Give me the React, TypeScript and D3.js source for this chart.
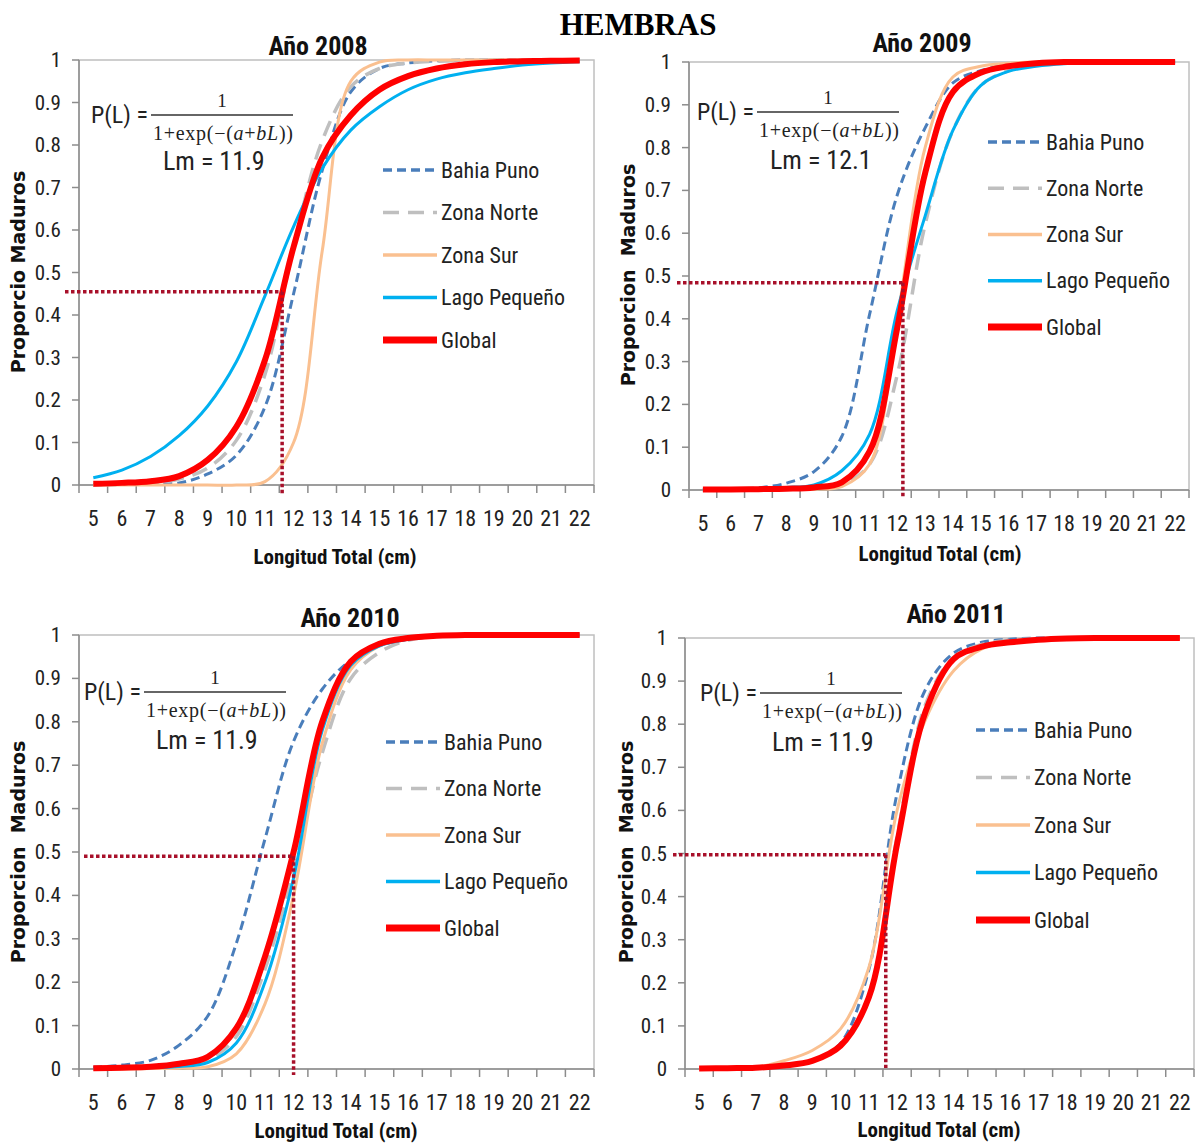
import React from "react";
import * as d3 from "d3";

// ---------- data ----------
const lengths = [5, 6, 7, 8, 9, 10, 11, 12, 13, 14, 15, 16, 17, 18, 19, 20, 21, 22];
const yTicks = [0, 0.1, 0.2, 0.3, 0.4, 0.5, 0.6, 0.7, 0.8, 0.9, 1];
const seriesNames = ["Bahia Puno", "Zona Norte", "Zona Sur", "Lago Pequeño", "Global"];
const panelTitles = ["Año 2008", "Año 2009", "Año 2010", "Año 2011"];
const yAxisTitles = ["Proporcio Maduros", "Proporcion  Maduros", "Proporcion  Maduros", "Proporcion  Maduros"];
const lmLabels = ["Lm = 11.9", "Lm = 12.1", "Lm = 11.9", "Lm = 11.9"];
const lmLengths = [11.6, 12.2, 12.0, 11.6];
const lmProportions = [0.455, 0.484, 0.49, 0.497];

const bahia2008 = [0, 0.001, 0.002, 0.005, 0.026, 0.07, 0.184, 0.45, 0.74, 0.925, 0.98, 0.993, 0.998, 1, 1, 1, 1, 1];
const norte2008 = [0.001, 0.002, 0.005, 0.014, 0.04, 0.105, 0.26, 0.56, 0.81, 0.937, 0.98, 0.993, 0.997, 0.999, 1, 1, 1, 1];
const sur2008 = [0, 0, 0, 0, 0, 0, 0.008, 0.1, 0.55, 0.95, 0.995, 1, 1, 1, 1, 1, 1, 1];
const lago2008 = [0.017, 0.035, 0.067, 0.116, 0.186, 0.29, 0.445, 0.608, 0.745, 0.835, 0.89, 0.93, 0.955, 0.97, 0.98, 0.988, 0.993, 0.996];
const global2008 = [0.003, 0.005, 0.009, 0.021, 0.059, 0.137, 0.294, 0.56, 0.77, 0.87, 0.93, 0.962, 0.98, 0.99, 0.995, 0.997, 0.998, 0.999];

const bahia2009 = [0, 0.002, 0.005, 0.016, 0.043, 0.125, 0.41, 0.69, 0.846, 0.951, 0.98, 0.993, 0.998, 1, 1, 1, 1, 1];
const norte2009 = [0, 0, 0.001, 0.002, 0.004, 0.012, 0.06, 0.27, 0.62, 0.84, 0.945, 0.98, 0.993, 0.998, 1, 1, 1, 1];
const sur2009 = [0, 0, 0, 0.001, 0.002, 0.008, 0.06, 0.4, 0.8, 0.965, 0.99, 0.997, 1, 1, 1, 1, 1, 1];
const lago2009 = [0.001, 0.002, 0.003, 0.006, 0.012, 0.045, 0.13, 0.42, 0.64, 0.84, 0.945, 0.978, 0.99, 0.996, 0.998, 1, 1, 1];
const global2009 = [0.001, 0.001, 0.002, 0.003, 0.006, 0.018, 0.09, 0.38, 0.74, 0.93, 0.975, 0.99, 0.997, 1, 1, 1, 1, 1];

const bahia2010 = [0.004, 0.009, 0.02, 0.055, 0.122, 0.29, 0.53, 0.755, 0.875, 0.942, 0.975, 0.99, 0.997, 1, 1, 1, 1, 1];
const norte2010 = [0.001, 0.002, 0.003, 0.006, 0.02, 0.075, 0.23, 0.46, 0.728, 0.9, 0.96, 0.988, 0.997, 1, 1, 1, 1, 1];
const sur2010 = [0, 0, 0.001, 0.002, 0.005, 0.035, 0.15, 0.4, 0.75, 0.92, 0.975, 0.992, 0.998, 1, 1, 1, 1, 1];
const lago2010 = [0.001, 0.002, 0.003, 0.006, 0.015, 0.06, 0.2, 0.44, 0.78, 0.93, 0.975, 0.99, 0.997, 1, 1, 1, 1, 1];
const global2010 = [0.002, 0.003, 0.005, 0.012, 0.028, 0.094, 0.259, 0.5, 0.8, 0.939, 0.98, 0.993, 0.998, 1, 1, 1, 1, 1];

const bahia2011 = [0.001, 0.002, 0.003, 0.008, 0.02, 0.06, 0.23, 0.64, 0.88, 0.965, 0.99, 0.997, 1, 1, 1, 1, 1, 1];
const norte2011 = [0.001, 0.002, 0.003, 0.007, 0.018, 0.052, 0.17, 0.54, 0.845, 0.955, 0.985, 0.995, 0.998, 1, 1, 1, 1, 1];
const sur2011 = [0.001, 0.002, 0.004, 0.019, 0.043, 0.093, 0.235, 0.6, 0.81, 0.924, 0.975, 0.99, 0.996, 0.999, 1, 1, 1, 1];
const lago2011: number[] = [];
const global2011 = [0.001, 0.002, 0.003, 0.008, 0.019, 0.054, 0.166, 0.522, 0.828, 0.951, 0.98, 0.99, 0.996, 0.999, 1, 1, 1, 1];

const panelSeries = [
  [bahia2008, norte2008, sur2008, lago2008, global2008],
  [bahia2009, norte2009, sur2009, lago2009, global2009],
  [bahia2010, norte2010, sur2010, lago2010, global2010],
  [bahia2011, norte2011, sur2011, lago2011, global2011],
];

// ---------- styles / layout ----------
const NARROW = "'Liberation Sans Narrow', 'Arial Narrow', 'Roboto Condensed', sans-serif";
const WIDE = "'DejaVu Sans', Verdana, sans-serif";
const SERIF = "'Liberation Serif', 'Times New Roman', serif";

const seriesStyles = [
  { color: "#4A7EBB", width: 3, dash: "9 5" },
  { color: "#BFBFBF", width: 3.5, dash: "16 9" },
  { color: "#FAC090", width: 3, dash: undefined },
  { color: "#00B0F0", width: 3, dash: undefined },
  { color: "#FF0000", width: 6, dash: undefined },
];

const layouts = [
  { left: 79, right: 594, top: 60, bottom: 485, titleX: 318, titleY: 46, xTitleX: 335, xTitleY: 557, yTitleX: 18, yTitleY: 272, eqX: 91, eqBarY: 115, lmTextX: 163, lmTextY: 161, legX: 383, legY: 170, legDy: 42.5, hLeft: 65, vBottom: 495 },
  { left: 689, right: 1189, top: 62, bottom: 490, titleX: 922, titleY: 43, xTitleX: 940, xTitleY: 554, yTitleX: 628, yTitleY: 275, eqX: 697, eqBarY: 112, lmTextX: 770, lmTextY: 160, legX: 988, legY: 142, legDy: 46.25, hLeft: 677, vBottom: 498 },
  { left: 79, right: 594, top: 635, bottom: 1069, titleX: 350, titleY: 618, xTitleX: 336, xTitleY: 1131, yTitleX: 18, yTitleY: 852, eqX: 84, eqBarY: 692, lmTextX: 156, lmTextY: 740, legX: 386, legY: 742, legDy: 46.5, hLeft: 84, vBottom: 1075 },
  { left: 685, right: 1194, top: 638, bottom: 1069, titleX: 956, titleY: 614, xTitleX: 939, xTitleY: 1130, yTitleX: 626, yTitleY: 852, eqX: 700, eqBarY: 693, lmTextX: 772, lmTextY: 742, legX: 976, legY: 730, legDy: 47.5, hLeft: 673, vBottom: 1068 },
];

function Panel({ idx }: { idx: number }) {
  const L = layouts[idx];
  const x = d3.scaleLinear().domain([lengths[0] - 0.5, lengths[lengths.length - 1] + 0.5]).range([L.left, L.right]);
  const y = d3.scaleLinear().domain([0, 1]).range([L.bottom, L.top]);
  const line = d3
    .line<number>()
    .x((_, i) => x(lengths[i]))
    .y((d) => y(d))
    .curve(d3.curveCatmullRom.alpha(0.5));
  const boundaries = [...lengths.map((l) => l - 0.5), lengths[lengths.length - 1] + 0.5];
  const fmt = (v: number) => (v === 0 ? "0" : v === 1 ? "1" : d3.format(".1f")(v));
  const lmx = x(lmLengths[idx]);
  const lmy = y(lmProportions[idx]);
  const axisColor = "#8C8C8C";
  return (
    <g>
      <rect x={L.left} y={L.top} width={L.right - L.left} height={L.bottom - L.top} fill="none" stroke="#BFBFBF" strokeWidth={1.5} />
      <line x1={L.left} x2={L.left} y1={L.top} y2={L.bottom} stroke={axisColor} strokeWidth={1.5} />
      <line x1={L.left} x2={L.right} y1={L.bottom} y2={L.bottom} stroke={axisColor} strokeWidth={1.5} />
      {yTicks.map((t) => (
        <g key={"y" + t}>
          <line x1={L.left - 7} x2={L.left} y1={y(t)} y2={y(t)} stroke={axisColor} strokeWidth={1.5} />
          <text x={L.left - 18} y={y(t)} textAnchor="end" dominantBaseline="central" fontFamily={NARROW} fontSize={21} fill="#222">
            {fmt(t)}
          </text>
        </g>
      ))}
      {boundaries.map((b) => (
        <line key={"xb" + b} x1={x(b)} x2={x(b)} y1={L.bottom} y2={L.bottom + 8} stroke={axisColor} strokeWidth={1.5} />
      ))}
      {lengths.map((l) => (
        <text key={"xl" + l} x={x(l)} y={L.bottom + 33} textAnchor="middle" dominantBaseline="central" fontFamily={NARROW} fontSize={22} fill="#222">
          {l}
        </text>
      ))}
      {panelSeries[idx].map((s, i) =>
        s.length ? (
          <path key={"s" + i} d={line(s) || ""} fill="none" stroke={seriesStyles[i].color} strokeWidth={seriesStyles[i].width} strokeDasharray={seriesStyles[i].dash} strokeLinejoin="round" />
        ) : null
      )}
      <line x1={L.hLeft} x2={lmx} y1={lmy} y2={lmy} stroke="#A8102A" strokeWidth={3.5} strokeDasharray="3.5 2.5" />
      <line x1={lmx} x2={lmx} y1={lmy} y2={L.vBottom} stroke="#A8102A" strokeWidth={3.5} strokeDasharray="3.5 2.5" />
      <text x={L.titleX} y={L.titleY} textAnchor="middle" dominantBaseline="central" fontFamily={NARROW} fontWeight="bold" fontSize={26} fill="#111">
        {panelTitles[idx]}
      </text>
      <text x={L.xTitleX} y={L.xTitleY} textAnchor="middle" dominantBaseline="central" fontFamily={NARROW} fontWeight="bold" fontSize={21} fill="#111">
        Longitud Total (cm)
      </text>
      <text transform={`translate(${L.yTitleX},${L.yTitleY}) rotate(-90)`} textAnchor="middle" dominantBaseline="central" fontFamily={WIDE} fontWeight="bold" fontSize={19} fill="#111" style={{ whiteSpace: "pre" }}>
        {yAxisTitles[idx]}
      </text>
      <text x={L.eqX} y={L.eqBarY} dominantBaseline="central" fontFamily={NARROW} fontSize={24} fill="#222">
        P(L) =
      </text>
      <line x1={L.eqX + 60} x2={L.eqX + 202} y1={L.eqBarY} y2={L.eqBarY} stroke="#333" strokeWidth={1.5} />
      <text x={L.eqX + 131} y={L.eqBarY - 15} textAnchor="middle" dominantBaseline="central" fontFamily={SERIF} fontSize={19} fill="#222">
        1
      </text>
      <text x={L.eqX + 62} y={L.eqBarY + 18} dominantBaseline="central" fontFamily={SERIF} fontSize={20} fill="#222" textLength={140} lengthAdjust="spacing">
        1+exp(−(<tspan fontStyle="italic">a</tspan>+<tspan fontStyle="italic">bL</tspan>))
      </text>
      <text x={L.lmTextX} y={L.lmTextY} dominantBaseline="central" fontFamily={NARROW} fontSize={26} fill="#222">
        {lmLabels[idx]}
      </text>
      {seriesNames.map((n, i) => {
        const ly = L.legY + i * L.legDy;
        const st = seriesStyles[i];
        return (
          <g key={"lg" + i}>
            <line x1={L.legX} x2={L.legX + 54} y1={ly} y2={ly} stroke={st.color} strokeWidth={i === 4 ? 7 : 3.5} strokeDasharray={st.dash} />
            <text x={L.legX + 58} y={ly} dominantBaseline="central" fontFamily={NARROW} fontSize={22} fill="#222">
              {n}
            </text>
          </g>
        );
      })}
    </g>
  );
}

export default function App() {
  return (
    <svg width={1196} height={1145} style={{ position: "absolute", left: 0, top: 0, background: "#fff" }}>
      <rect x={0} y={0} width={1196} height={1145} fill="#fff" />
      <text x={638} y={24} textAnchor="middle" dominantBaseline="central" fontFamily={SERIF} fontWeight="bold" fontSize={31} fill="#000">
        HEMBRAS
      </text>
      {[0, 1, 2, 3].map((i) => (
        <Panel key={i} idx={i} />
      ))}
    </svg>
  );
}
